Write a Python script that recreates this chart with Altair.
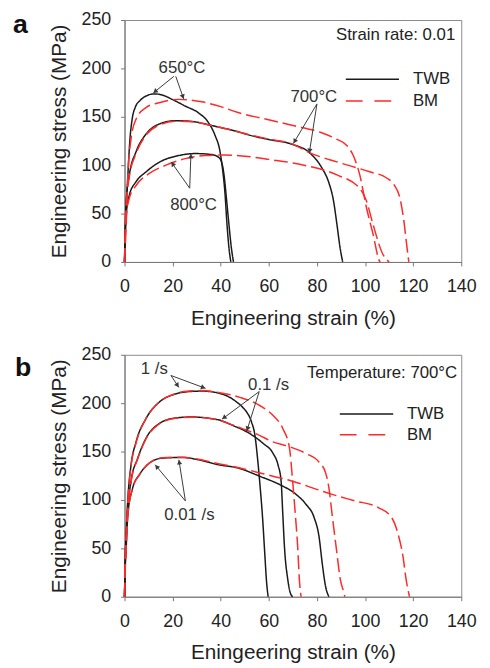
import math
import altair as alt
import pandas as pd

W, H = 341, 245
XMAX, YMAX = 140, 250
FONT = "Liberation Sans"
BLACK = "#1a1a1a"
RED = "#ff2a2a"
GRAY = "#3a3a3a"

# ---------------- Panel a (strain rate 0.01) ----------------
A_TWB_650_X = [0, 0.5, 1.4, 2.2, 3.2, 4.5, 6.5, 9, 11.6, 13.5, 15.7, 19.8, 25.3, 30.8, 34.9, 37.6, 39.7, 40.7, 41.7, 42.6, 43.4, 44.2]
A_TWB_650_Y = [0, 40, 90, 125, 148, 160, 167, 171.5, 173.5, 173.5, 172.5, 168, 161, 154, 144, 131, 114, 97, 73, 39, 15, 0]
A_TWB_700_X = [0, 0.3, 0.7, 2, 4.8, 8.9, 14.4, 21.2, 28, 36.2, 47.2, 52, 60, 69.1, 77.3, 82.1, 84.8, 86.9, 88.3, 89.6, 90.7]
A_TWB_700_Y = [0, 35, 63, 90, 114, 132, 142.5, 146, 145.2, 141, 134.5, 131, 126.5, 122, 112, 97, 83, 63, 39, 15, 0]
A_TWB_800_X = [0, 0.3, 0.7, 2, 4.8, 8.9, 14.4, 22.6, 29.4, 36.2, 39.2, 40.7, 41.6, 42.4, 43.4, 44.4, 45.3]
A_TWB_800_Y = [0, 30, 49, 69, 83, 93, 103, 110, 112, 111, 108, 100, 85, 65, 39, 15, 0]
A_BM_650_X = [0, 0.7, 1.4, 2.7, 4.8, 8.9, 14.4, 22.6, 32.1, 40, 47.2, 58, 70, 81.4, 88, 92.4, 95.1, 97.8, 100.6, 103.3, 106, 106.3]
A_BM_650_Y = [0, 39, 90, 127, 147.6, 159.5, 164.6, 168, 165.5, 160.5, 154.4, 148, 141, 134, 127, 120.4, 110, 90, 56, 29, 1, 0]
A_BM_700_X = [0, 0.3, 0.7, 2, 4.8, 8.9, 14.4, 21.2, 28, 36.2, 45.8, 52, 60, 69.1, 77.3, 88.3, 101.9, 108.8, 112, 114.5, 116, 117.2, 118.2]
A_BM_700_Y = [0, 33, 60, 88, 112, 131, 141.5, 145.5, 145, 141, 135.5, 131.5, 127, 122.5, 112.5, 103.4, 93.2, 87, 80, 66, 45, 20, 0]
A_BM_800_X = [0, 0.3, 0.7, 2, 4.8, 10.3, 17.2, 25.3, 33.5, 41.7, 51.3, 60, 74.6, 88.3, 97.8, 100.6, 103.3, 107.4, 110]
A_BM_800_Y = [0, 28, 46, 66, 79, 91.5, 100, 106.8, 110, 110.5, 109, 106, 100, 90, 76, 63, 39, 8, 0]

A_LABELS = ["650°C", "700°C", "800°C"]
A_LABEL_X = [23.9, 78.7, 28.7]
A_LABEL_Y = [200.3, 170.4, 59.2]
A_ARROW_X1 = [20.5, 21.3, 80.0, 80.0, 27.1, 27.1]
A_ARROW_Y1 = [191.8, 191.8, 163.3, 163.3, 76.2, 76.2]
A_ARROW_X2 = [11.9, 24.6, 70.2, 76.8, 19.4, 27.6]
A_ARROW_Y2 = [174.5, 168.4, 122.4, 112.2, 103.4, 111.9]
A_NOTE = "Strain rate: 0.01"
A_NOTE_XY = [137.5, 229.6]
A_LEG_X = [92.0, 114.1, 119.9]
A_LEG_Y = [188.8, 166.3]

# ---------------- Panel b (700 °C) ----------------
B_TWB_1_X = [0, 0.3, 0.7, 1.4, 2.7, 4.8, 8.9, 14.4, 21.2, 27, 32.1, 39, 43, 46.7, 49.4, 50.8, 52.8, 54.2, 55.5, 56.5, 57.3, 58.3, 59, 59.7]
B_TWB_1_Y = [0, 40, 68, 102, 136, 160, 184, 201, 209.5, 212, 212.5, 210.5, 207, 201, 195, 190.8, 180.6, 167, 138, 110, 85, 45, 17, 0]
B_BM_1_X = [0, 0.3, 0.7, 1.4, 2.7, 4.8, 8.9, 14.4, 21.2, 27, 32.1, 39, 48, 56.2, 61.7, 65.8, 68.6, 69.9, 71, 72, 72.7, 73.4]
B_BM_1_Y = [0, 38, 66, 100, 135, 159, 184, 201, 210, 212.5, 213, 211, 206, 197.6, 187.4, 173.8, 153.4, 119.4, 85.4, 51.3, 17.3, 0]
B_TWB_01_X = [0, 0.3, 0.7, 1.4, 2.7, 5.5, 8.9, 14.4, 21.2, 28, 36.2, 39.8, 45, 50.8, 57.6, 61.7, 63.8, 65.1, 65.8, 66.5, 67.9, 68.8, 69.9]
B_TWB_01_Y = [0, 35, 61.5, 92, 119.4, 143.2, 163.6, 178.9, 184.7, 185.7, 184, 182.3, 177, 170.4, 158.5, 148.3, 136.4, 119.4, 85.4, 51.3, 17.3, 5, 0]
B_BM_01_X = [0, 0.3, 0.7, 1.4, 2.7, 5.5, 8.9, 14.4, 21.2, 28, 36.2, 39.8, 45, 50.8, 55, 61.7, 68.6, 75.4, 80.9, 83.6, 85, 86.3, 88, 89.8, 91.1, 91.6]
B_BM_01_Y = [0, 34, 60, 91, 118.5, 142.5, 163, 178.5, 184.5, 185.5, 184, 182, 177.5, 172, 168, 160, 155, 148, 139, 128, 112, 85, 51, 17, 5, 0]
B_TWB_001_X = [0, 0.3, 0.7, 1.4, 3.4, 6.2, 10.3, 15.7, 23.9, 30.8, 39, 47.2, 56.2, 64.4, 71.3, 75.4, 78.8, 80.9, 82.2, 83.6, 85]
B_TWB_001_Y = [0, 30, 51.3, 85.4, 112.5, 126.2, 138, 143.2, 143.9, 141.5, 136.4, 133, 124.5, 116, 105.8, 95.6, 82, 61.5, 34.4, 10.5, 0]
B_BM_001_X = [0, 0.3, 0.7, 1.4, 3.4, 6.2, 10.3, 15.7, 23.9, 30.8, 39, 48, 61.7, 69.9, 78.1, 86.3, 95.9, 105.5, 111, 113.7, 115.8, 117.1, 118.5]
B_BM_001_Y = [0, 30, 51, 85, 112, 126, 138, 143.5, 144.2, 142, 137.5, 133, 124.5, 119.4, 112.5, 105.8, 99, 92.1, 82, 65, 41.1, 17.3, 0]

B_LABELS = ["1 /s", "0.1 /s", "0.01 /s"]
B_LABEL_X = [12.4, 59.9, 27.0]
B_LABEL_Y = [235.0, 218.4, 84.7]
B_ARROW_X1 = [19.3, 19.3, 56.0, 56.0, 25.3, 25.3]
B_ARROW_Y1 = [228.6, 228.6, 212.0, 212.0, 99.0, 99.0]
B_ARROW_X2 = [22.6, 33.7, 40.5, 50.8, 12.7, 22.6]
B_ARROW_Y2 = [216.3, 215.3, 183.4, 171.1, 136.4, 141.5]
B_NOTE = "Temperature: 700°C"
B_NOTE_XY = [138.3, 225.8]
B_LEG_X = [89.5, 111.7, 117.4]
B_LEG_Y = [188.8, 167.3]

MATERIALS = ["TWB", "BM"]


def curves_df(curves):
    rows = []
    for name, mat, xs, ys in curves:
        for i, (x, y) in enumerate(zip(xs, ys)):
            rows.append({"strain": x, "stress": y, "curve": name, "material": mat, "idx": i})
    return pd.DataFrame(rows)


def arrows_df(x1s, y1s, x2s, y2s):
    rows = []
    sx, sy = W / XMAX, H / YMAX
    for x1, y1, x2, y2 in zip(x1s, y1s, x2s, y2s):
        dxp = (x2 - x1) * sx
        dyp = (y2 - y1) * sy
        L = math.hypot(dxp, dyp)
        back = 2.5 / L
        hx = x2 - (x2 - x1) * back
        hy = y2 - (y2 - y1) * back
        ang = math.degrees(math.atan2(dxp, dyp)) % 360
        rows.append({"x1": x1, "y1": y1, "x2": x2, "y2": y2, "hx": hx, "hy": hy, "angle": ang})
    return pd.DataFrame(rows)


def panel(curves, dash, labels, lx, ly, ax1, ay1, ax2, ay2, note, note_xy, leg_x, leg_y,
          letter, letter_dx, letter_y, xtitle):
    xs = alt.Scale(domain=[0, XMAX], nice=False, zero=False)
    ys = alt.Scale(domain=[0, YMAX], nice=False, zero=False)
    xax = alt.Axis(values=list(range(0, 141, 20)), title=xtitle, labelFlush=False)
    yax = alt.Axis(values=list(range(0, 251, 50)), title="Engineering stress (MPa)", labelFlush=False)
    color = alt.Color("material:N", scale=alt.Scale(domain=MATERIALS, range=[BLACK, RED]), legend=None)
    sdash = alt.StrokeDash("material:N", scale=alt.Scale(domain=MATERIALS, range=[[1, 0], dash]), legend=None)

    lines = alt.Chart(curves_df(curves)).mark_line(strokeWidth=1.5, interpolate="monotone").encode(
        x=alt.X("strain:Q", scale=xs, axis=xax),
        y=alt.Y("stress:Q", scale=ys, axis=yax),
        color=color,
        strokeDash=sdash,
        detail="curve:N",
        order="idx:Q",
    )

    adf = arrows_df(ax1, ay1, ax2, ay2)
    arrows = alt.Chart(adf).mark_rule(color=GRAY, strokeWidth=1).encode(
        x="x1:Q", y="y1:Q", x2="x2:Q", y2="y2:Q")
    heads = alt.Chart(adf).mark_point(shape="triangle-up", filled=True, size=28, color=GRAY, opacity=1).encode(
        x="hx:Q", y="hy:Q", angle=alt.Angle("angle:Q", scale=None))

    ldf = pd.DataFrame({"label": labels, "x": lx, "y": ly})
    texts = alt.Chart(ldf).mark_text(font=FONT, fontSize=17, color="#333333", align="center", baseline="middle").encode(
        x="x:Q", y="y:Q", text="label:N")

    ndf = pd.DataFrame({"label": [note], "x": [note_xy[0]], "y": [note_xy[1]]})
    note_t = alt.Chart(ndf).mark_text(font=FONT, fontSize=17, color="#222222", align="right", baseline="alphabetic").encode(
        x="x:Q", y="y:Q", text="label:N")

    gdf = pd.DataFrame({"material": MATERIALS, "x": [leg_x[0]] * 2, "x2": [leg_x[1]] * 2,
                        "tx": [leg_x[2]] * 2, "y": leg_y})
    leg_twb = alt.Chart(gdf).transform_filter(alt.datum.material == "TWB").mark_rule(strokeWidth=1.5).encode(
        x="x:Q", x2="x2:Q", y="y:Q", color=color)
    leg_bm = alt.Chart(gdf).transform_filter(alt.datum.material == "BM").mark_rule(strokeWidth=1.5, strokeDash=[17, 12]).encode(
        x="x:Q", x2="x2:Q", y="y:Q", color=color)
    leg_t = alt.Chart(gdf).mark_text(font=FONT, fontSize=17, color="#222222", align="left", baseline="middle").encode(
        x="tx:Q", y="y:Q", text="material:N")

    let_df = pd.DataFrame({"t": [letter]})
    let_t = alt.Chart(let_df).mark_text(font=FONT, fontSize=27, fontWeight="bold", color="#111111",
                                        align="left", baseline="alphabetic").encode(
        x=alt.value(letter_dx), y=alt.value(letter_y), text="t:N")

    return alt.layer(lines, arrows, heads, texts, note_t, leg_twb, leg_bm, leg_t, let_t).properties(width=W, height=H)


panel_a = panel(
    [("650 TWB", "TWB", A_TWB_650_X, A_TWB_650_Y), ("700 TWB", "TWB", A_TWB_700_X, A_TWB_700_Y),
     ("800 TWB", "TWB", A_TWB_800_X, A_TWB_800_Y), ("650 BM", "BM", A_BM_650_X, A_BM_650_Y),
     ("700 BM", "BM", A_BM_700_X, A_BM_700_Y), ("800 BM", "BM", A_BM_800_X, A_BM_800_Y)],
    [14, 5], A_LABELS, A_LABEL_X, A_LABEL_Y, A_ARROW_X1, A_ARROW_Y1, A_ARROW_X2, A_ARROW_Y2,
    A_NOTE, A_NOTE_XY, A_LEG_X, A_LEG_Y, "a", -113, 13, "Engineering strain (%)")

panel_b = panel(
    [("1 TWB", "TWB", B_TWB_1_X, B_TWB_1_Y), ("0.1 TWB", "TWB", B_TWB_01_X, B_TWB_01_Y),
     ("0.01 TWB", "TWB", B_TWB_001_X, B_TWB_001_Y), ("1 BM", "BM", B_BM_1_X, B_BM_1_Y),
     ("0.1 BM", "BM", B_BM_01_X, B_BM_01_Y), ("0.01 BM", "BM", B_BM_001_X, B_BM_001_Y)],
    [12, 4], B_LABELS, B_LABEL_X, B_LABEL_Y, B_ARROW_X1, B_ARROW_Y1, B_ARROW_X2, B_ARROW_Y2,
    B_NOTE, B_NOTE_XY, B_LEG_X, B_LEG_Y, "b", -111, 21, "Eningeering strain (%)")

chart = alt.vconcat(panel_a, panel_b, spacing=16).properties(
    padding={"left": 4, "top": -2, "right": 5, "bottom": 0}
).configure_view(
    stroke="#8a8a8a", strokeWidth=1
).configure_axis(
    grid=False, domainColor="#777777", tickColor="#777777", tickSize=4,
    labelFont=FONT, labelFontSize=18, labelColor="#222222",
    titleFont=FONT, titleFontSize=21, titleFontWeight="normal", titleColor="#222222",
    titlePadding=12,
).configure_axisX(labelPadding=12).configure_axisY(labelPadding=10)

chart.save("out.html", embed_options={"renderer": "svg", "actions": False})
